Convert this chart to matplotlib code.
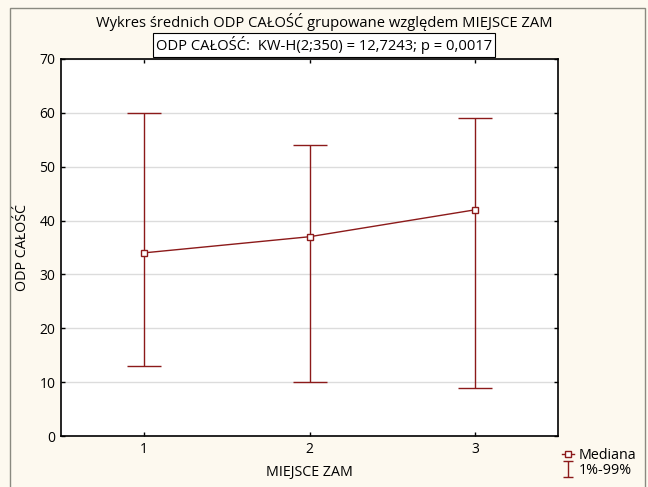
import matplotlib
matplotlib.use("Agg")
import matplotlib.pyplot as plt
from matplotlib.patches import Rectangle
from matplotlib.lines import Line2D
from matplotlib.path import Path
import numpy as np

plt.rcParams['font.family'] = ['Open Sans', 'DejaVu Sans']

groups = [1, 2, 3]
mediana = [34, 37, 42]
p01 = [13, 10, 9]
p99 = [60, 54, 59]

red = '#8c1a1a'
bg = '#fdf9ef'

fig = plt.figure(figsize=(6.48, 4.87), dpi=100, facecolor=bg)
ax = fig.add_axes([61 / 648, 1 - 436 / 487, (558 - 61) / 648, (436 - 59) / 487])
ax.set_facecolor('white')

# ramka wokol calego wykresu
fig.patches.append(Rectangle((10 / 648, -0.05), (645 - 10) / 648, 1.05 - 8 / 487,
                             transform=fig.transFigure, fill=False,
                             edgecolor='#8a8a80', linewidth=1.0, clip_on=False))

x = np.array(groups)
med = np.array(mediana)
lo = med - np.array(p01)
hi = np.array(p99) - med

ax.plot(x, med, color=red, lw=1.0, marker='s', markersize=5,
        markerfacecolor='white', markeredgecolor=red, markeredgewidth=1.0,
        zorder=4)
ax.errorbar(x, med, yerr=[lo, hi], fmt='none', ecolor=red, elinewidth=1.0,
            capsize=12.5, capthick=1.0, zorder=3)

ax.set_xlim(0.5, 3.5)
ax.set_ylim(0, 70)
ax.set_xticks(groups)
ax.set_yticks(np.arange(0, 71, 10))
ax.yaxis.grid(True, color='#dcdcdc', lw=1.0)
ax.set_axisbelow(True)
ax.tick_params(direction='in', length=3, width=1, top=True, right=True,
               labelsize=10, colors='black', pad=4)
for s in ax.spines.values():
    s.set_linewidth(1.2)

ax.set_xlabel('MIEJSCE ZAM', fontsize=10.3, labelpad=6)
ax.set_ylabel('ODP CAŁOŚĆ', fontsize=10.3, labelpad=7)

fig.text(0.5, 1 - 22 / 487, 'Wykres średnich ODP CAŁOŚĆ grupowane względem MIEJSCE ZAM',
         ha='center', va='center', fontsize=10.6)
fig.text(0.5, 1 - 45 / 487, 'ODP CAŁOŚĆ:  KW-H(2;350) = 12,7243; p = 0,0017',
         ha='center', va='center', fontsize=10.6,
         bbox=dict(boxstyle='square,pad=0.2', facecolor='white', edgecolor='black', lw=0.8))

# symbol "I" do legendy
i_path = Path([(-0.6, -1), (0.6, -1), (0, -1), (0, 1), (-0.6, 1), (0.6, 1)],
              [Path.MOVETO, Path.LINETO, Path.MOVETO, Path.LINETO, Path.MOVETO, Path.LINETO])
h_med = Line2D([], [], color=red, lw=1.0, marker='s', markersize=5,
               markerfacecolor='white', markeredgecolor=red)
h_rng = Line2D([], [], color=red, lw=0, marker=i_path, markersize=11,
               markerfacecolor='none', markeredgecolor=red, markeredgewidth=1.0)

leg = fig.legend([h_med, h_rng], ['Mediana', '1%-99%'], loc='upper left',
                 bbox_to_anchor=(553 / 648, 1 - 439 / 487), frameon=False,
                 fontsize=10.3, handlelength=0.9, handletextpad=0.3,
                 labelspacing=0.05, borderpad=0.1)

fig.savefig('out.png', dpi=100, facecolor=bg)
